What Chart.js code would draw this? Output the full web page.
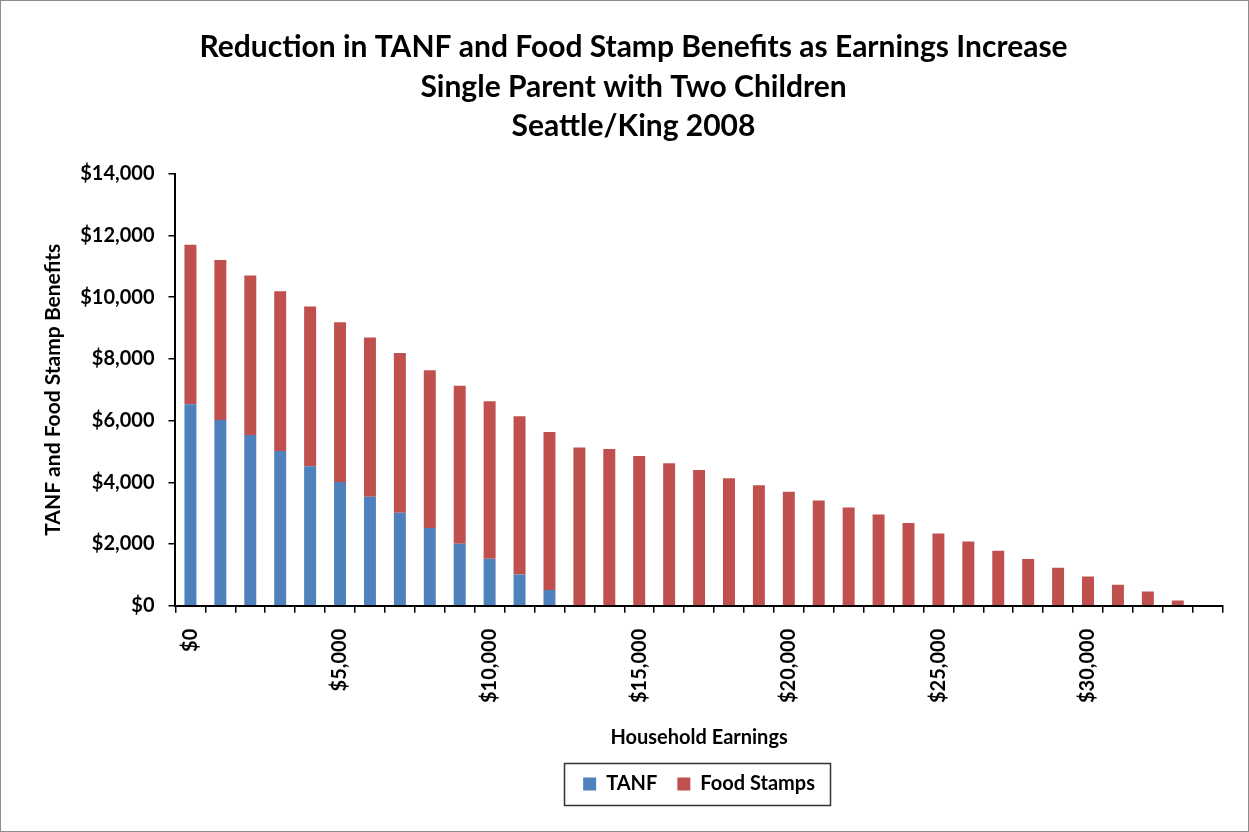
<!DOCTYPE html>
<html>
<head>
<meta charset="utf-8">
<script src="https://cdn.jsdelivr.net/npm/chart.js@4/dist/chart.umd.min.js"></script>
<style>
html,body{margin:0;padding:0;background:#fff;}
#wrap{width:1249px;height:832px;box-sizing:border-box;border:1px solid #8c8c8c;position:relative;}
canvas{display:block;}
</style>
</head>
<body>
<div id="wrap"><canvas id="c" width="1247" height="830"></canvas></div>
<script>
const earnings = [0,1000,2000,3000,4000,5000,6000,7000,8000,9000,10000,11000,12000,13000,14000,15000,16000,17000,18000,19000,20000,21000,22000,23000,24000,25000,26000,27000,28000,29000,30000,31000,32000,33000,34000];
const tanf = [6530,6020,5530,5010,4520,4010,3530,3010,2520,2010,1520,1010,510,0,0,0,0,0,0,0,0,0,0,0,0,0,0,0,0,0,0,0,0,0,0];
const foodStamps = [5170,5180,5170,5180,5180,5180,5160,5180,5110,5120,5110,5130,5120,5130,5080,4850,4620,4400,4130,3900,3690,3410,3180,2960,2680,2340,2080,1780,1510,1230,950,680,460,170,0];
const titleLines = ["Reduction in TANF and Food Stamp Benefits as Earnings Increase","Single Parent with Two Children","Seattle/King 2008"];

const FONT = "Lato, 'Open Sans', sans-serif";
const fmt = v => '$' + Number(v).toLocaleString('en-US');

// center the legend under the plot area and frame it
const legendBox = {
  id:'legendBox',
  afterLayout(chart){
    const l = chart.legend, a = chart.chartArea;
    if(!l || !a) return;
    l.left = a.left; l.right = a.right; l.width = a.right - a.left;
  },
  afterDraw(chart){
    const l = chart.legend; if(!l || !l.legendHitBoxes || !l.legendHitBoxes.length) return;
    const hb = l.legendHitBoxes;
    const first = hb[0], last = hb[hb.length-1];
    const left = first.left - 19, right = last.left + last.width + 15;
    const cy = first.top + first.height/2;
    const ctx = chart.ctx;
    ctx.save();
    ctx.strokeStyle = '#333';
    ctx.lineWidth = 1.5;
    ctx.strokeRect(Math.round(left)+0.5, Math.round(cy-21)+0.5, Math.round(right-left), 42);
    ctx.restore();
  }
};

new Chart(document.getElementById('c'), {
  type:'bar',
  data:{
    labels: earnings.map(fmt),
    datasets:[
      {label:'TANF', data:tanf, backgroundColor:'#4F81BD', borderWidth:0, categoryPercentage:1, barPercentage:0.4},
      {label:'Food Stamps', data:foodStamps, backgroundColor:'#C0504D', borderWidth:0, categoryPercentage:1, barPercentage:0.4}
    ]
  },
  options:{
    responsive:false,
    animation:false,
    layout:{padding:{left:40,right:22,top:20,bottom:27}},
    plugins:{
      title:{display:true, text:titleLines, color:'#000', font:{family:FONT, size:30, weight:'bold', lineHeight:1.33}, padding:{top:6,bottom:27}},
      legend:{position:'bottom', labels:{color:'#000', font:{family:FONT, size:20, weight:'bold'}, boxWidth:13, boxHeight:13, padding:20}},
      tooltip:{enabled:false}
    },
    scales:{
      x:{
        stacked:true,
        offset:true,
        grid:{display:true, drawOnChartArea:false, offset:true, tickLength:7, color:'#000', tickColor:'#000', lineWidth:1.5},
        border:{display:true, color:'#000', width:2},
        ticks:{autoSkip:false, maxRotation:90, minRotation:90, color:'#000', padding:16, font:{family:FONT, size:20, weight:'bold'},
          callback:function(v,i){ return i%5===0 ? this.getLabelForValue(v) : ''; }},
        title:{display:true, text:'Household Earnings', color:'#000', font:{family:FONT, size:20, weight:'bold'}, padding:{top:7,bottom:4}}
      },
      y:{
        stacked:true,
        min:0, max:14000,
        grid:{display:true, drawOnChartArea:false, tickLength:7, color:'#000', tickColor:'#000', lineWidth:1.5},
        border:{display:true, color:'#000', width:2},
        ticks:{stepSize:2000, color:'#000', padding:14, font:{family:FONT, size:20, weight:'bold'}, callback:v=>fmt(v)},
        title:{display:true, text:'TANF and Food Stamp Benefits', color:'#000', font:{family:FONT, size:21, weight:'bold'}, padding:{top:0,bottom:0}}
      }
    }
  },
  plugins:[legendBox]
});
</script>
</body>
</html>
